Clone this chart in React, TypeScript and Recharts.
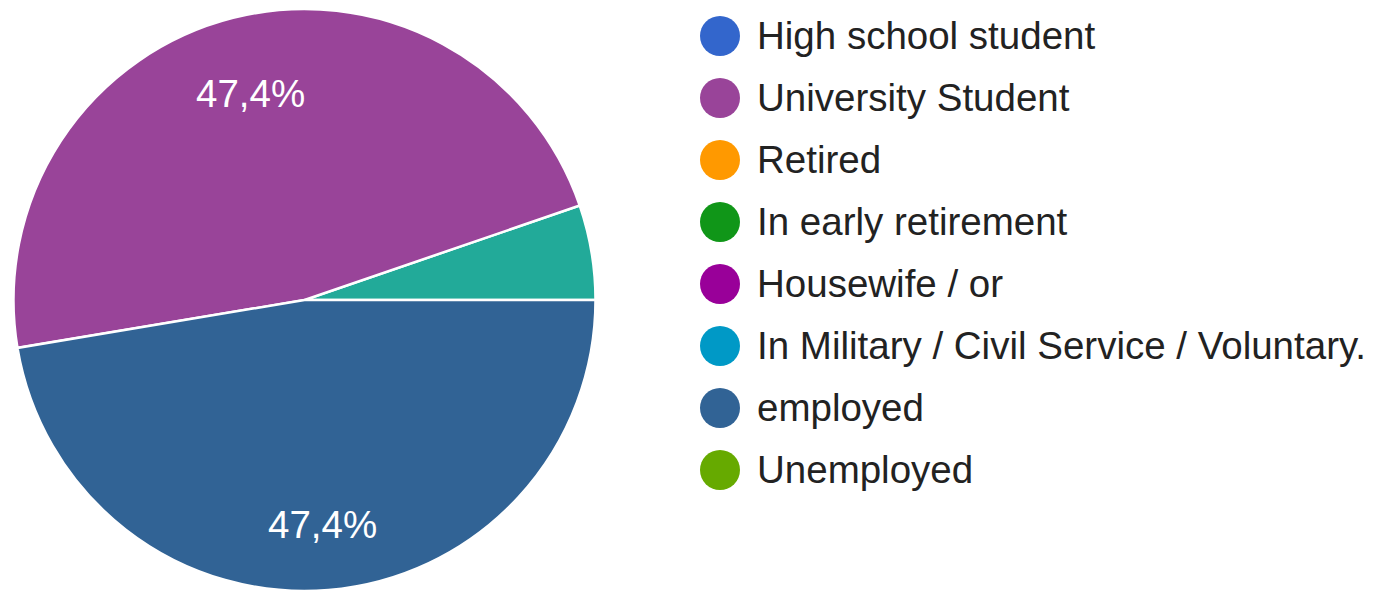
import { Cell, Pie, PieChart } from 'recharts';

// legend categories (as shown), with their response counts
const categories = [
  'High school student',
  'University Student',
  'Retired',
  'In early retirement',
  'Housewife / or',
  'In Military / Civil Service / Voluntary.',
  'employed',
  'Unemployed',
];
const legendColors = ['#3366cc', '#994499', '#ff9900', '#109618', '#990099', '#0099c6', '#316395', '#66aa00'];

// slices drawn counter-clockwise from 3 o'clock
const sliceNames = ['Other', 'University Student', 'employed'];
const sliceValues = [1, 9, 9];
const sliceColors = ['#22aa99', '#994499', '#316395'];

const pieData = sliceNames.map((name, i) => ({ name, value: sliceValues[i] }));

const RAD = Math.PI / 180;
const FONT = '"Liberation Sans", Arial, sans-serif';

const renderLabel = (props: any) => {
  const { cx, cy, midAngle, outerRadius, percent } = props;
  if (percent < 0.1) return null;
  const r = outerRadius * 0.755;
  const x = cx + r * Math.cos(-midAngle * RAD);
  const y = cy + r * Math.sin(-midAngle * RAD) + 6;
  return (
    <text x={x} y={y} fill="#fff" textAnchor="middle" dominantBaseline="central" fontSize={38.5} fontFamily={FONT}>
      {(percent * 100).toFixed(1).replace('.', ',') + '%'}
    </text>
  );
};

export default function App() {
  return (
    <div style={{ position: 'absolute', left: 0, top: 0, width: 1381, height: 592, background: '#fff', overflow: 'hidden' }}>
      <PieChart width={1381} height={592} margin={{ top: 0, right: 0, bottom: 0, left: 0 }}>
        <Pie
          data={pieData}
          dataKey="value"
          nameKey="name"
          cx={304.5}
          cy={300}
          outerRadius={291}
          startAngle={0}
          endAngle={360}
          stroke="#fff"
          strokeWidth={2.5}
          label={renderLabel}
          labelLine={false}
          isAnimationActive={false}
        >
          {pieData.map((_, i) => (
            <Cell key={i} fill={sliceColors[i]} />
          ))}
        </Pie>
      </PieChart>
      <div style={{ position: 'absolute', left: 700, top: 5, fontFamily: FONT, fontSize: 38.5, color: '#222' }}>
        {categories.map((c, i) => (
          <div key={c} style={{ display: 'flex', alignItems: 'center', height: 62, whiteSpace: 'nowrap' }}>
            <span style={{ width: 40, height: 40, borderRadius: '50%', background: legendColors[i], display: 'inline-block', marginRight: 17, flexShrink: 0 }} />
            <span>{c}</span>
          </div>
        ))}
      </div>
    </div>
  );
}
